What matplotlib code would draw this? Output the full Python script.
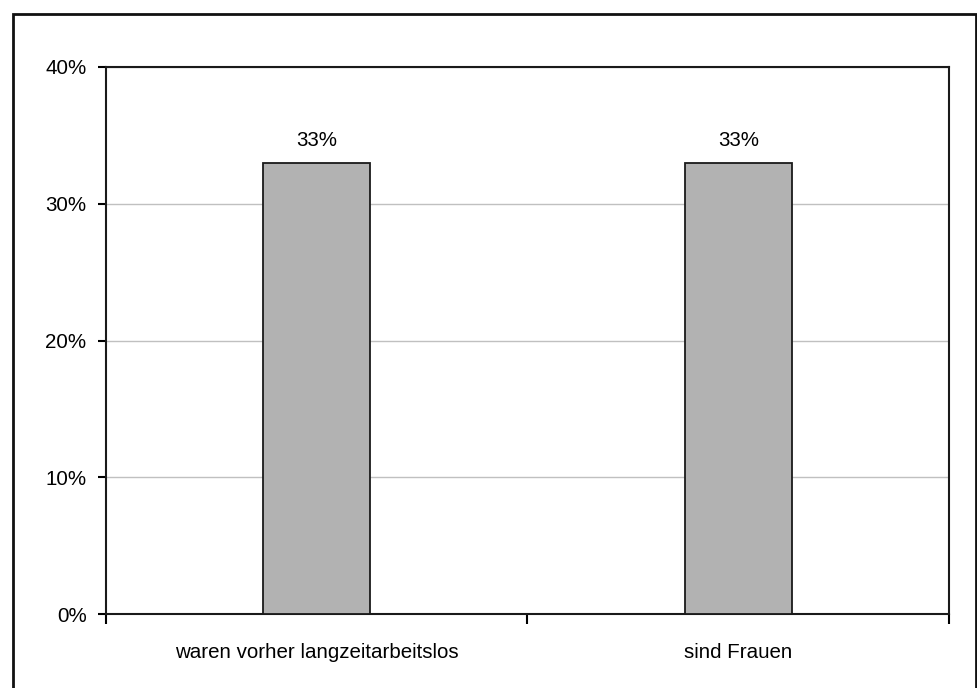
import matplotlib.pyplot as plt
from matplotlib.patches import Rectangle
from matplotlib.ticker import FuncFormatter

categories = ['waren vorher langzeitarbeitslos', 'sind Frauen']
shares = [33, 33]
yticks = [0, 10, 20, 30, 40]

plt.rcParams['font.family'] = ['Liberation Sans', 'DejaVu Sans']

fig = plt.figure(figsize=(9.78, 6.88), dpi=100)
ax = fig.add_axes([106 / 978, 1 - 614 / 688, 843 / 978, 547 / 688])

x = range(len(categories))
ax.bar(x, shares, width=0.254, color='#b2b2b2', edgecolor='#1a1a1a',
       linewidth=1.3, zorder=3)
for xi, v in zip(x, shares):
    ax.annotate(f'{v}%', (xi, v), xytext=(0, 9), textcoords='offset points',
                ha='center', va='bottom', fontsize=14.8)

ax.set_xlim(-0.5, len(categories) - 0.5)
ax.set_ylim(0, 40)
ax.set_yticks(yticks)
ax.yaxis.set_major_formatter(FuncFormatter(lambda v, p: f'{v:.0f}%'))
ax.yaxis.grid(True, color='#c0c0c0', linewidth=1.0, zorder=0)

# category labels in the middle, tick marks on the category boundaries
ax.set_xticks(list(x))
ax.set_xticklabels(categories, fontsize=14.8)
ax.tick_params(axis='x', length=0, pad=21)
ax.set_xticks([-0.5, 0.5, 1.5], minor=True)
ax.tick_params(axis='x', which='minor', length=7, width=1.5, direction='out')
ax.tick_params(axis='y', length=6, width=1.5, direction='out', labelsize=14.8, pad=8)

for s in ax.spines.values():
    s.set_linewidth(1.5)
    s.set_color('#1a1a1a')

# frame around the whole chart
fig.patches.append(Rectangle((13 / 978, -0.01), (976.5 - 13) / 978, 1.01 - 14 / 688,
                             transform=fig.transFigure, fill=False,
                             edgecolor='#111111', linewidth=2))

fig.savefig('out.png', dpi=100)
